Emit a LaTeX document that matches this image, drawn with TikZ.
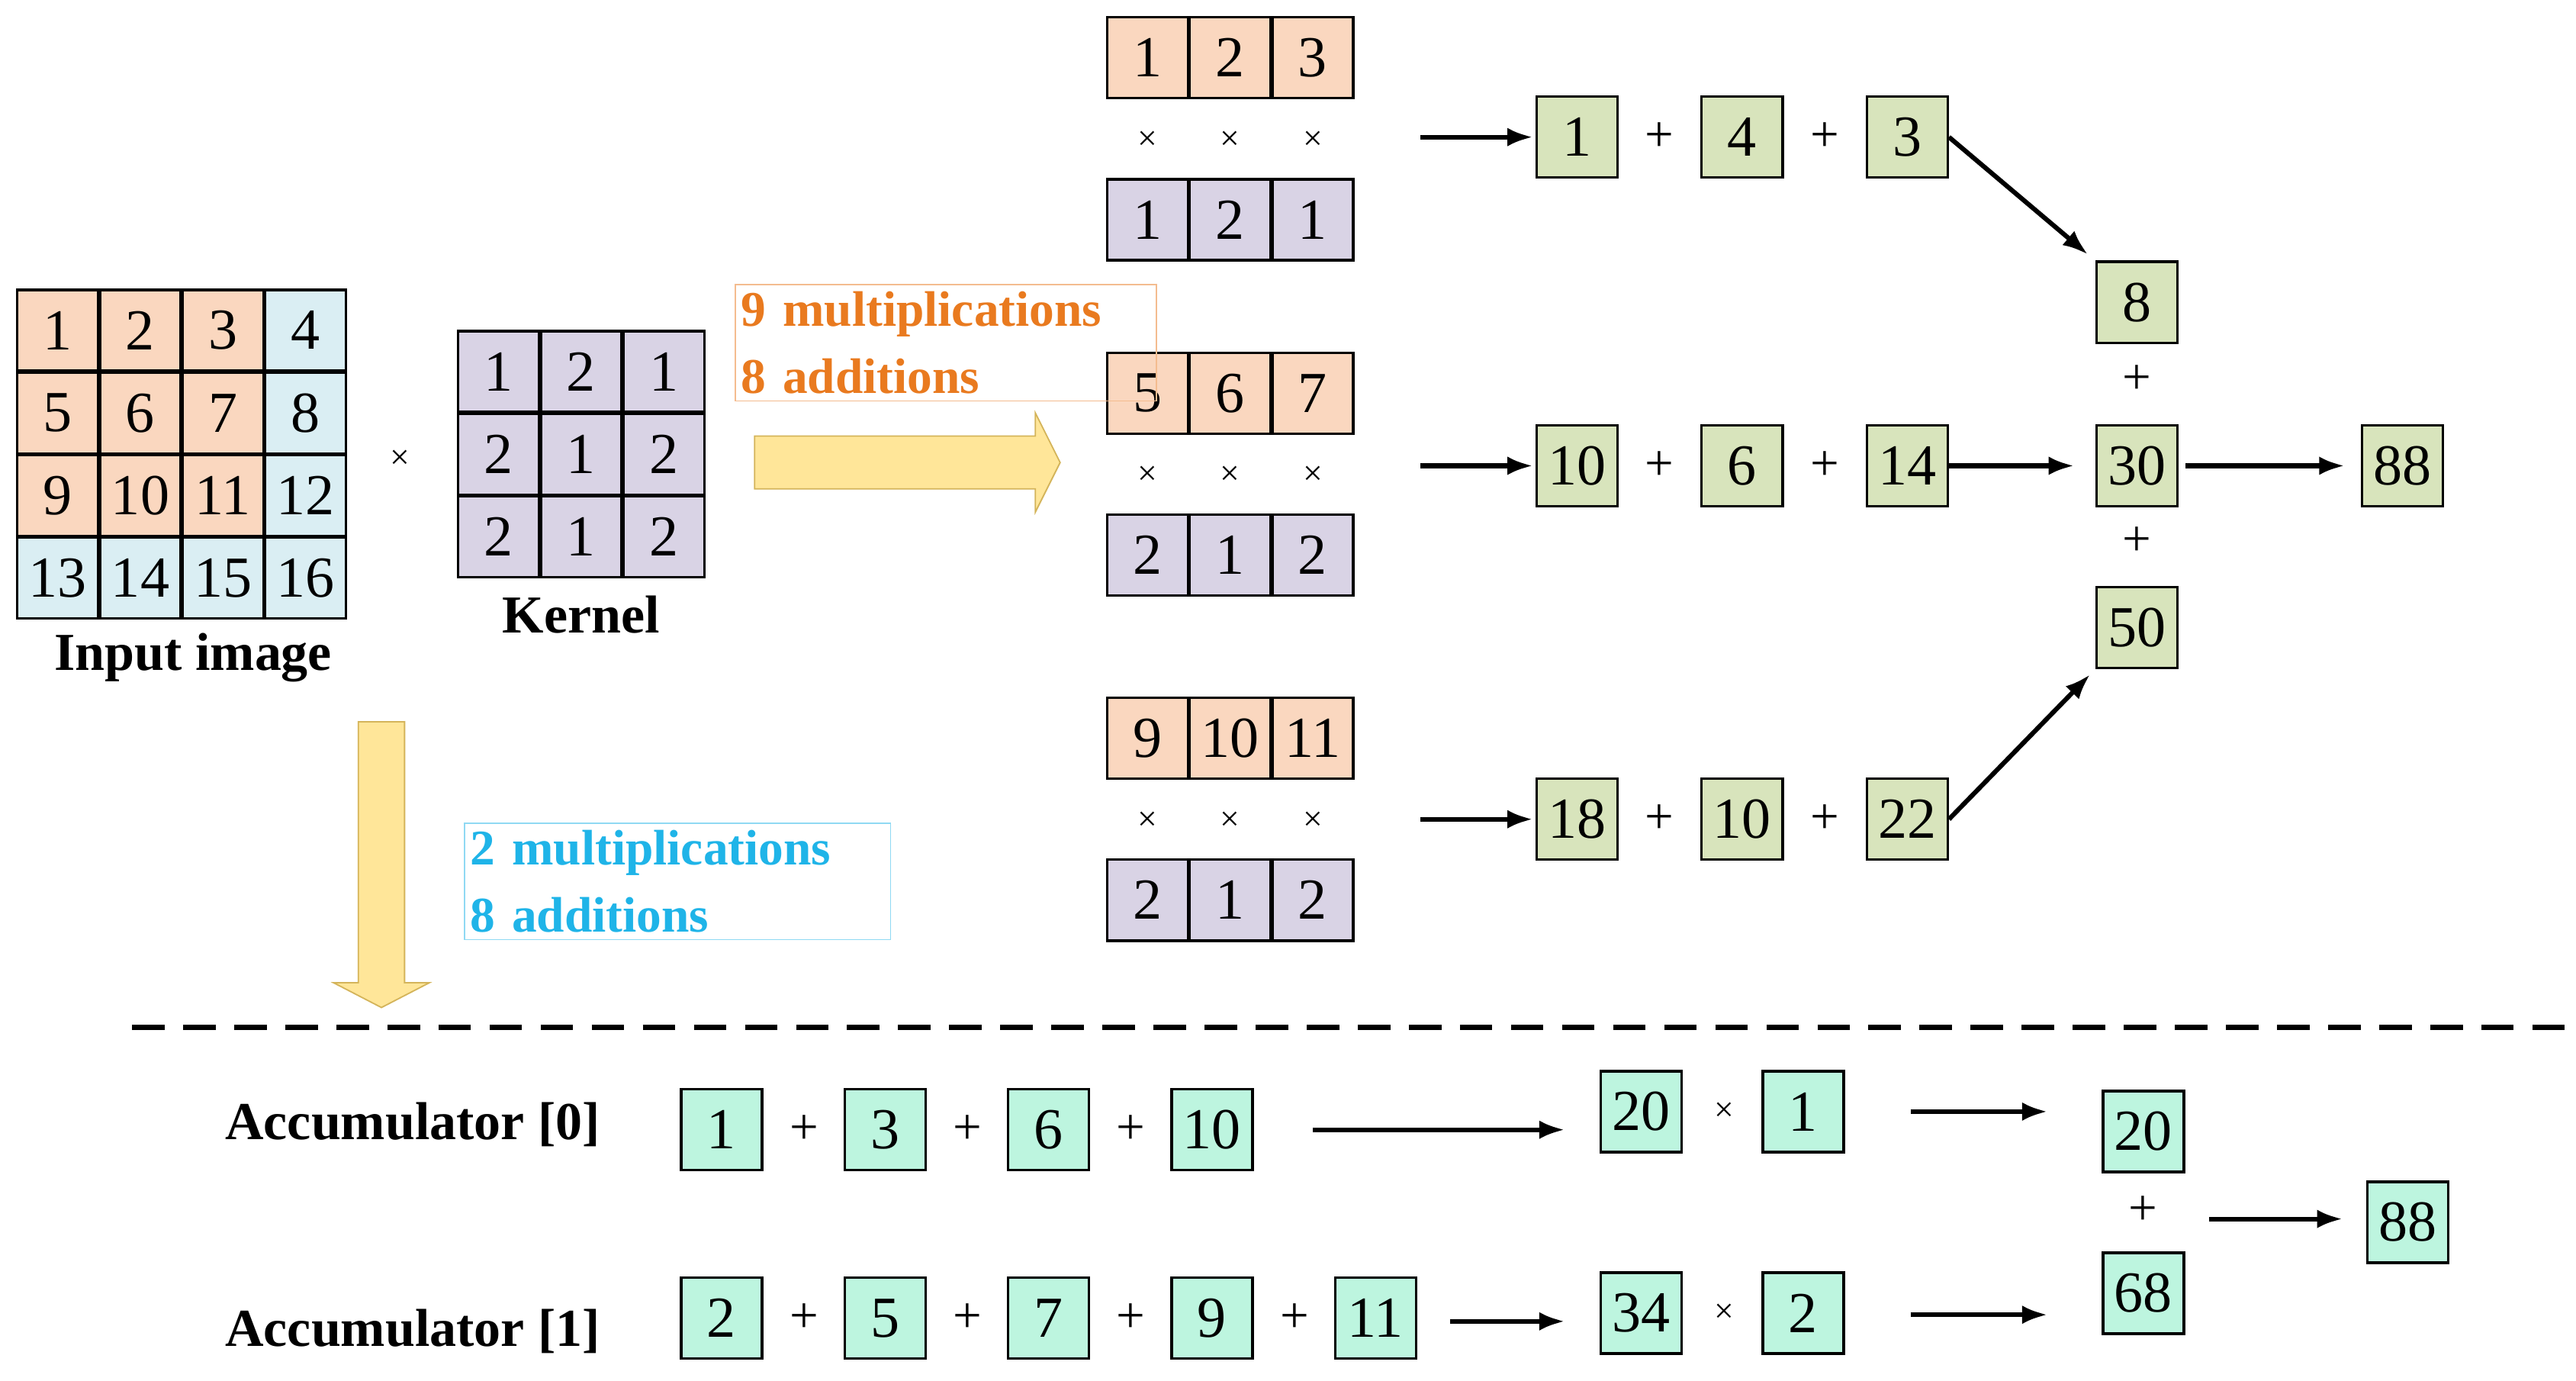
\documentclass[tikz,border=0pt]{standalone}
\usepackage{fontspec}
\setmainfont{Liberation Serif}
\usetikzlibrary{arrows.meta}
\definecolor{peach}{HTML}{FAD7BF}
\definecolor{lblue}{HTML}{DAEEF3}
\definecolor{lav}{HTML}{D9D3E5}
\definecolor{lgreen}{HTML}{D8E4BC}
\definecolor{mint}{HTML}{BDF5DF}
\definecolor{yel}{HTML}{FFE699}
\definecolor{yelb}{HTML}{D4B45A}
\definecolor{ora}{HTML}{E97A1F}
\definecolor{cya}{HTML}{1FB4E8}
\begin{document}
\begin{tikzpicture}[x=0.05cm,y=-0.05cm,
 cell/.style={draw,line width=2.2pt,minimum size=2.45cm,inner sep=0pt,font=\fontsize{50}{55}\selectfont},
 op/.style={font=\fontsize{44}{48}\selectfont,inner sep=0pt},
 sm/.style={font=\fontsize{30}{34}\selectfont,inner sep=0pt},
 lab/.style={font=\fontsize{46}{50}\selectfont\bfseries,inner sep=0pt},
 arr/.style={line width=4pt,-{Latex[length=22pt,width=16pt]}},
 tbox/.style={line width=1pt,align=left,anchor=north west,font=\fontsize{43}{58}\selectfont\bfseries,inner xsep=5pt,inner ysep=6pt}]
\useasboundingbox (0,0) rectangle (1560,836);
% input image
\foreach \r in {0,...,3}{\foreach \c in {0,...,3}{
 \pgfmathtruncatemacro\v{\r*4+\c+1}
 \pgfmathsetmacro\col{(\r<3 && \c<3) ? "peach" : "lblue"}
 \node[cell,fill=\col] (in\v) at (35+50*\c,200+50*\r) {\v};}}
\node[lab] (inl) at (117,398) {Input image};
\node[sm] (tm) at (242,278) {×};
% kernel
\foreach \v [count=\i from 0] in {1,2,1,2,1,2,2,1,2}{
 \pgfmathtruncatemacro\r{int(\i/3)}\pgfmathtruncatemacro\c{mod(\i,3)}
 \node[cell,fill=lav] (k\i) at (302+50*\c,225+50*\r) {\v};}
\node[lab] (kl) at (352,372) {Kernel};
% rows
\foreach \y/\a/\b/\cc/\d/\e/\f/\n in {35/1/2/3/1/2/1/a,238/5/6/7/2/1/2/b,447/9/10/11/2/1/2/c}{
 \node[cell,fill=peach] (\n o1) at (695,\y) {\a};
 \node[cell,fill=peach] (\n o2) at (745,\y) {\b};
 \node[cell,fill=peach] (\n o3) at (795,\y) {\cc};
 \foreach \x in {695,745,795}{\node[sm] at (\x,\y+50) {×};}
 \node[cell,fill=lav] (\n p1) at (695,\y+98) {\d};
 \node[cell,fill=lav] (\n p2) at (745,\y+98) {\e};
 \node[cell,fill=lav] (\n p3) at (795,\y+98) {\f};}
% green
\foreach \y/\a/\b/\cc/\n in {83/1/4/3/a,282/10/6/14/b,496/18/10/22/c}{
 \coordinate (\n s) at (860,\y);
 \node[cell,fill=lgreen] (\n g1) at (955,\y) {\a};
 \node[op] at (1005,\y) {+};
 \node[cell,fill=lgreen] (\n g2) at (1055,\y) {\b};
 \node[op] at (1105,\y) {+};
 \node[cell,fill=lgreen] (\n g3) at (1155,\y) {\cc};
 \draw[arr,shorten >=2pt] (\n s) -- (\n g1);}
\node[cell,fill=lgreen] (s8) at (1294,183) {8};
\node[op] at (1294,230) {+};
\node[cell,fill=lgreen] (s30) at (1294,282) {30};
\node[op] at (1294,328) {+};
\node[cell,fill=lgreen] (s50) at (1294,380) {50};
\node[cell,fill=lgreen] (r88) at (1455,282) {88};
\draw[arr,shorten >=8pt] (ag3.east) -- (s8.north west);
\draw[arr,shorten >=18pt] (bg3) -- (s30);
\draw[arr,shorten <=6pt,shorten >=14pt] (s30) -- (r88);
\draw[arr,shorten >=6pt] (cg3.east) -- (s50.south west);
% text boxes
\node[tbox,draw=ora!50,text=ora,text width=12.4cm] (ob) at (445,172) {9 multiplications\\8 additions};
\node[tbox,draw=cya!50,text=cya,text width=12.55cm] (cb) at (281,498) {2 multiplications\\8 additions};
% fat arrows
\draw[fill=yel,draw=yelb,line width=1.2pt] (457,264)--(627,264)--(627,250)--(642,280)--(627,310)--(627,296)--(457,296)--cycle;
\draw[fill=yel,draw=yelb,line width=1.2pt] (217,437)--(245,437)--(245,595)--(260,595)--(231,610)--(202,595)--(217,595)--cycle;
% dashed
\draw[line width=4pt,dash pattern=on 28pt off 16pt] (80,622) -- (1555,622);
% accumulators
\node[lab] (acc0) at (250,681) {Accumulator [0]};
\node[lab] (acc1) at (250,806) {Accumulator [1]};
\foreach \v [count=\i] in {1,3,6,10}{\node[cell,fill=mint] (m\i) at (338+99*\i,684) {\v};}
\foreach \x in {487,586,685}{\node[op] at (\x,684) {+};}
\foreach \v [count=\i] in {2,5,7,9,11}{\node[cell,fill=mint] (n\i) at (338+99*\i,798) {\v};}
\foreach \x in {487,586,685,784}{\node[op] at (\x,798) {+};}
\coordinate (ma) at (795,684); \coordinate (na) at (878,800);
\node[cell,fill=mint] (m20) at (994,673) {20}; \node[sm] at (1044,673) {×};
\node[cell,fill=mint] (m1) at (1092,673) {1};
\node[cell,fill=mint] (n34) at (994,795) {34}; \node[sm] at (1044,795) {×};
\node[cell,fill=mint] (n2) at (1092,795) {2};
\draw[arr,shorten >=30pt] (ma) -- (m20.west|-ma);
\draw[arr,shorten >=30pt] (na) -- (n34.west|-na);
\node[cell,fill=mint] (f20) at (1298,685) {20};
\node[op] at (1298,733) {+};
\node[cell,fill=mint] (f68) at (1298,783) {68};
\node[cell,fill=mint] (f88) at (1458,740) {88};
\coordinate (c1) at (1157,673); \coordinate (c2) at (1157,796);
\coordinate (d1) at (1240,673); \coordinate (d2) at (1240,796);
\draw[arr] (c1) -- (d1);
\draw[arr] (c2) -- (d2);
\coordinate (e1) at (1338,738);
\draw[arr,shorten >=20pt] (e1) -- (f88.west|-e1);
\end{tikzpicture}
\end{document}
